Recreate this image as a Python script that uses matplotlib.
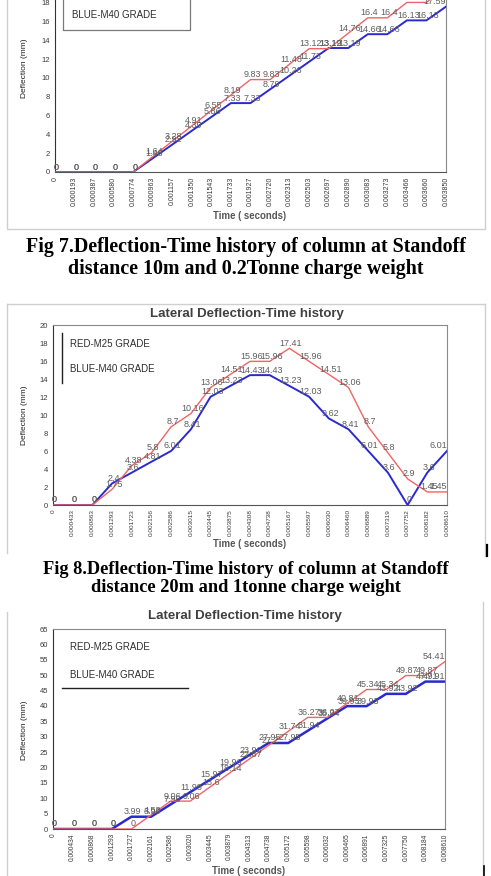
import numpy as np
import matplotlib
matplotlib.use("Agg")
import matplotlib.pyplot as plt
from matplotlib.lines import Line2D

plt.rcParams['font.family'] = ['Liberation Sans', 'DejaVu Sans']

# ---- data ----
ticks7 = ['0', '0.000193', '0.000387', '0.000580', '0.000774', '0.000963', '0.001157',
          '0.001350', '0.001543', '0.001733', '0.001927', '0.002720', '0.002313', '0.002503',
          '0.002697', '0.002890', '0.003083', '0.003273', '0.003466', '0.003660', '0.003850']
red7 = [0, 0, 0, 0, 0, 1.64, 3.28, 4.91, 6.55, 8.19, 9.83, 9.83, 11.48, 13.12, 13.12,
        14.76, 16.4, 16.4, 18.04, 18.04, 19.68]
blue7 = [0, 0, 0, 0, 0, 1.46, 2.92, 4.39, 5.86, 7.33, 7.33, 8.79, 10.26, 11.73, 13.19,
         13.19, 14.66, 14.66, 16.13, 16.13, 17.59]

ticks8 = ['0', '0.000433', '0.000863', '0.001293', '0.001723', '0.002156', '0.002586',
          '0.003015', '0.003445', '0.003875', '0.004308', '0.004738', '0.005167', '0.005597',
          '0.006030', '0.006460', '0.006889', '0.007319', '0.007752', '0.008182', '0.008610']
red8 = [0, 0, 0, 1.75, 4.38, 5.8, 8.7, 10.16, 13.06, 14.51, 15.96, 15.96, 17.41, 15.96,
        14.51, 13.06, 8.7, 5.8, 2.9, 1.45, 1.45]
blue8 = [0, 0, 0, 2.4, 3.6, 4.81, 6.01, 8.41, 12.03, 13.23, 14.43, 14.43, 13.23, 12.03,
         9.62, 8.41, 6.01, 3.6, 0, 3.6, 6.01]

ticks9 = ['0', '0.000434', '0.000868', '0.001293', '0.001727', '0.002161', '0.002586',
          '0.003020', '0.003445', '0.003879', '0.004313', '0.004738', '0.005172', '0.005598',
          '0.006032', '0.006465', '0.006891', '0.007325', '0.007750', '0.008184', '0.008610']
red9 = [0, 0, 0, 0, 0, 4.53, 9.06, 9.06, 13.6, 18.14, 22.67, 27.2, 31.74, 36.27, 36.27,
        40.81, 45.34, 45.34, 49.87, 49.87, 54.41]
blue9 = [0, 0, 0, 0, 3.99, 3.99, 7.99, 11.98, 15.97, 19.96, 23.96, 27.95, 27.95, 31.94,
         35.94, 39.93, 39.93, 43.92, 43.92, 47.91, 47.91]

RED = '#f06464'
BLUE = '#2a2ad0'
W, H = 491, 876

fig = plt.figure(figsize=(W / 100, H / 100), dpi=100)
fig.patch.set_facecolor('white')


def box(l, t, r, b):
    return [l / W, 1 - b / H, (r - l) / W, (b - t) / H]


def ftext(x, y, s, **kw):
    fig.text(x / W, 1 - y / H, s, **kw)


def fline(xs, ys, **kw):
    fig.add_artist(Line2D([x / W for x in xs], [1 - y / H for y in ys],
                          transform=fig.transFigure, **kw))


def draw_chart(ax, ticks, red, blue, ymax, ystep, blue_lw=1.4, xfs=5, xpad=3.5):
    x = np.arange(len(ticks))
    ax.plot(x, blue, color=BLUE, lw=blue_lw, zorder=3)
    ax.plot(x, red, color=RED, lw=1.0, zorder=4)
    n = len(ticks)
    for series in (red, blue):
        for i, v in enumerate(series):
            if v > ymax - 1:
                continue  # sits above the visible page
            ha = 'right' if i == n - 1 else 'center'
            dx = 0 if i == n - 1 else 1.5
            ax.annotate('{:g}'.format(v), (i, v), xytext=(dx * 0.72, 3.6),
                        textcoords='offset points', ha=ha, va='center',
                        fontsize=6.5, color='#5e5e5e', zorder=5, annotation_clip=False)
    ax.set_xlim(0, n - 1)
    ax.set_ylim(0, ymax)
    ax.set_xticks(x)
    ax.set_xticklabels(ticks, rotation=90, fontsize=xfs, color='#3a3a3a')
    yt = np.arange(0, ymax + 0.1, ystep)
    ax.set_yticks(yt)
    ax.set_yticklabels(['{:g}'.format(t) for t in yt], fontsize=5.5, color='#3a3a3a')
    ax.tick_params(length=0)
    ax.tick_params(axis='y', pad=3.6)
    ax.tick_params(axis='x', pad=xpad)
    for s in ax.spines.values():
        s.set_color('#8a8a8a')
        s.set_linewidth(0.8)
    ax.spines['left'].set_color('#333333')
    ax.spines['bottom'].set_color('#555555')


# ---- chart 1 (Fig 7) ----
ax1 = fig.add_axes(box(55, -16, 446, 172))
draw_chart(ax1, ticks7, red7, blue7, 20, 2)
fline([63, 63, 190, 190], [-5, 30, 30, -5], color='#7a7a7a', lw=0.9)
ftext(72, 15, 'BLUE-M40 GRADE', fontsize=7, color='#2e2e2e', va='center')
ftext(25, 68, 'Deflection (mm)', rotation=90, fontsize=6, color='#202020',
      ha='center', va='center')
ftext(250, 216, 'Time ( seconds)', fontsize=6.9, weight='bold', color='#555555',
      ha='center', va='center')
fline([7, 7, 485, 485], [-2, 229, 229, -2], color='#cfcfcf', lw=1.0)

ftext(246, 252, 'Fig 7.Deflection-Time history of column at Standoff',
      family='Liberation Serif', weight='bold', fontsize=14.4, ha='center', va='baseline')
ftext(246, 274, 'distance 10m and 0.2Tonne charge weight',
      family='Liberation Serif', weight='bold', fontsize=14.4, ha='center', va='baseline')

# ---- chart 2 (Fig 8) ----
fline([7, 7], [304, 553], color='#cfcfcf', lw=1.0)
fline([7, 485], [304, 304], color='#cfcfcf', lw=1.0)
fline([485, 485], [304, 556], color='#cfcfcf', lw=1.0)
fline([487, 487], [545, 556], color='black', lw=1.6)
ftext(247, 317, 'Lateral Deflection-Time history', fontsize=9.5, weight='bold',
      color='#404040', ha='center', va='baseline')
ax2 = fig.add_axes(box(53, 325, 447, 505))
draw_chart(ax2, ticks8, red8, blue8, 20, 2, xfs=4.6, xpad=3.0)
fline([62, 62], [333, 383], color='#222222', lw=1.0)
ftext(70, 344, 'RED-M25 GRADE', fontsize=7, color='#2e2e2e', va='center')
ftext(70, 369, 'BLUE-M40 GRADE', fontsize=7, color='#2e2e2e', va='center')
ftext(25, 415, 'Deflection (mm)', rotation=90, fontsize=6, color='#202020',
      ha='center', va='center')
ftext(250, 544, 'Time ( seconds)', fontsize=6.9, weight='bold', color='#555555',
      ha='center', va='center')

ftext(246, 574, 'Fig 8.Deflection-Time history of column at Standoff',
      family='Liberation Serif', weight='bold', fontsize=13.2, ha='center', va='baseline')
ftext(246, 592, 'distance 20m and 1tonne charge weight',
      family='Liberation Serif', weight='bold', fontsize=13.2, ha='center', va='baseline')

# ---- chart 3 ----
fline([7, 7], [612, 876], color='#cfcfcf', lw=1.0)
fline([483, 483], [602, 876], color='#cfcfcf', lw=1.0)
fline([484, 484], [866, 876], color='black', lw=1.2)
ftext(245, 619, 'Lateral Deflection-Time history', fontsize=9.5, weight='bold',
      color='#404040', ha='center', va='baseline')
ax3 = fig.add_axes(box(53, 629, 445, 829))
draw_chart(ax3, ticks9, red9, blue9, 65, 5, blue_lw=1.8, xfs=4.8, xpad=3.0)
ftext(70, 647, 'RED-M25 GRADE', fontsize=7, color='#2e2e2e', va='center')
ftext(70, 675, 'BLUE-M40 GRADE', fontsize=7, color='#2e2e2e', va='center')
fline([62, 188], [688, 688], color='#222222', lw=1.0)
ftext(25, 730, 'Deflection (mm)', rotation=90, fontsize=6, color='#202020',
      ha='center', va='center')
ftext(249, 871.5, 'Time ( seconds)', fontsize=6.9, weight='bold', color='#555555',
      ha='center', va='center')

fig.savefig('out.png', dpi=100)
